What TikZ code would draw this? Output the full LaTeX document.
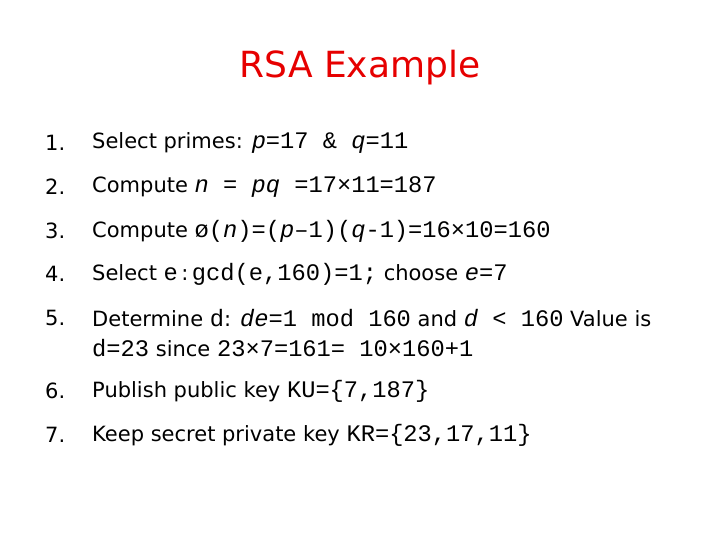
\documentclass[tikz,border=0pt]{standalone}
\usepackage{fontspec}
\setmainfont{DejaVu Sans}
\setmonofont[Scale=1.13]{Liberation Mono}
\begin{document}
\begin{tikzpicture}[x=1pt,y=-1pt,
  num/.style={anchor=west,font=\fontsize{21}{24}\selectfont,inner sep=0},
  line/.style={anchor=west,font=\fontsize{21}{24}\selectfont,inner sep=0}]
\useasboundingbox (0,0) rectangle (720,540);
\node[font=\fontsize{36}{40}\selectfont,text={rgb,255:red,230;green,0;blue,0}] (title) at (360,68) {RSA Example};
\node[num] (n1) at (45,143) {1.};
\node[line] (l1) at (92,143) {Select primes: \texttt{\textit{p}=17 \& \textit{q}=11}};
\node[num] (n2) at (45,187) {2.};
\node[line] (l2) at (92,187) {Compute \texttt{\textit{n} = \textit{pq} =17×11=187}};
\node[num] (n3) at (45,231) {3.};
\node[line] (l3) at (92,231) {Compute \texttt{ø(\textit{n})=(\textit{p}–1)(\textit{q}-1)=16×10=160}};
\node[num] (n4) at (45,274) {4.};
\node[line] (l4) at (92,274) {Select \texttt{e}\,:\,\texttt{gcd(e,160)=1;} choose \texttt{\textit{e}=7}};
\node[num] (n5) at (45,318) {5.};
\node[line] (l5) at (92,318) {Determine \texttt{d}: \texttt{\textit{de}=1 mod 160} and \texttt{\textit{d} < 160} Value is};
\node[line] (l5b) at (92,348) {\texttt{d=23} since \texttt{23×7=161= 10×160+1}};
\node[num] (n6) at (45,391) {6.};
\node[line] (l6) at (92,391) {Publish public key \texttt{KU=\{7,187\}}};
\node[num] (n7) at (45,435) {7.};
\node[line] (l7) at (92,435) {Keep secret private key \texttt{KR=\{23,17,11\}}};
\end{tikzpicture}
\end{document}
